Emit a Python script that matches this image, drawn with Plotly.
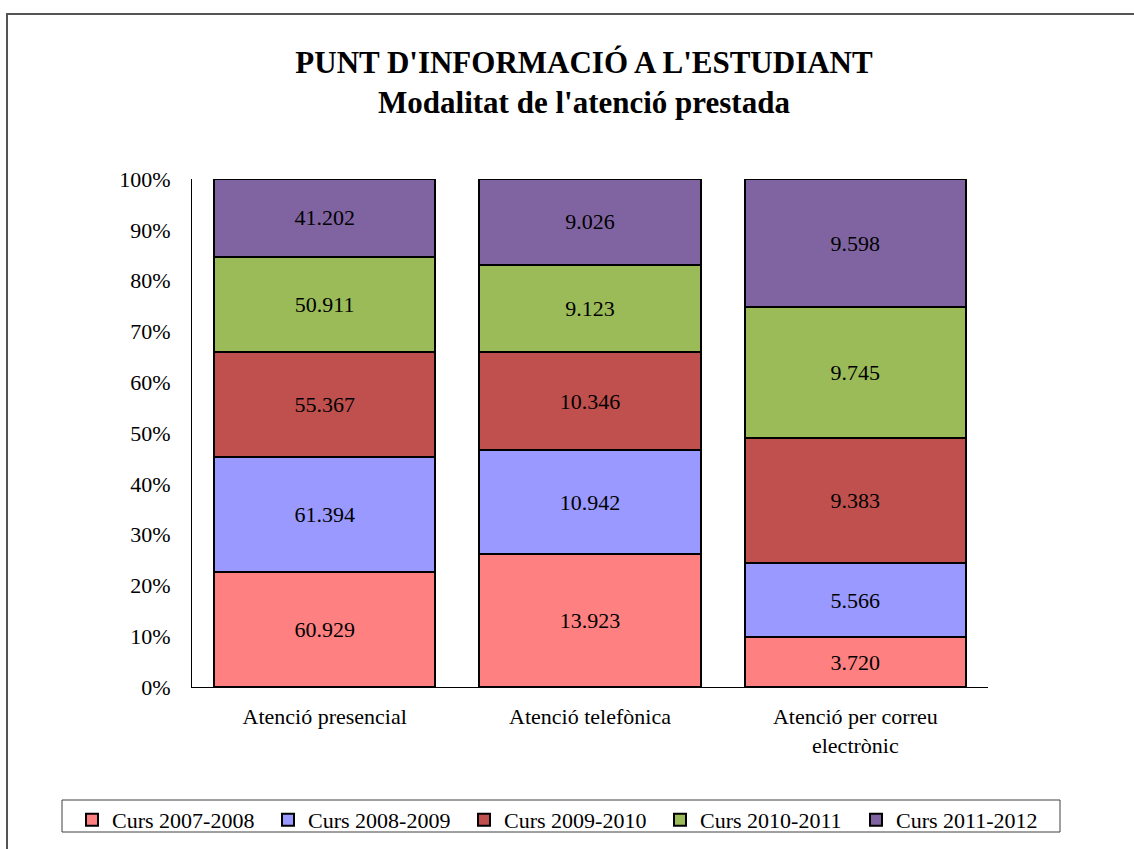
import plotly.graph_objects as go

# Attention channels (x categories)
categories = ["Atenció presencial", "Atenció telefònica", "Atenció per correu<br>electrònic"]

# Number of attentions per academic year and channel
curs_2007_2008 = [60929, 13923, 3720]
curs_2008_2009 = [61394, 10942, 5566]
curs_2009_2010 = [55367, 10346, 9383]
curs_2010_2011 = [50911, 9123, 9745]
curs_2011_2012 = [41202, 9026, 9598]

series_names = ["Curs 2007-2008", "Curs 2008-2009", "Curs 2009-2010", "Curs 2010-2011", "Curs 2011-2012"]
series_values = [curs_2007_2008, curs_2008_2009, curs_2009_2010, curs_2010_2011, curs_2011_2012]
series_colors = ["#FF8080", "#9999FF", "#C0504D", "#9BBB59", "#8064A2"]

y_ticks = [0, 10, 20, 30, 40, 50, 60, 70, 80, 90, 100]

FONT = "Liberation Serif, Times New Roman, serif"
TXT = 22

PLOT_L, PLOT_R, PLOT_T, PLOT_B = 192, 988, 179, 687
PW, PH = PLOT_R - PLOT_L, PLOT_B - PLOT_T


def fmt(v):
    return f"{v:,}".replace(",", ".")


def px_x(px):
    return (px - PLOT_L) / PW


def px_y(py):
    return (PLOT_B - py) / PH


fig = go.Figure()
for name, vals, col in zip(series_names, series_values, series_colors):
    fig.add_trace(go.Bar(
        x=categories,
        y=vals,
        name=name,
        marker=dict(color=col, line=dict(color="black", width=2)),
        text=[fmt(v) for v in vals],
        textposition="inside",
        insidetextanchor="middle",
        textangle=0,
        textfont=dict(family=FONT, size=TXT, color="black"),
        hoverinfo="skip",
    ))

fig.update_layout(
    barmode="stack",
    barnorm="percent",
    bargap=0.167,
    width=1134,
    height=849,
    margin=dict(l=PLOT_L, r=1134 - PLOT_R, t=PLOT_T, b=849 - PLOT_B, autoexpand=False),
    paper_bgcolor="white",
    plot_bgcolor="white",
    font=dict(family=FONT, size=TXT, color="black"),
    title=dict(
        text="<b>PUNT D'INFORMACIÓ A L'ESTUDIANT<br>Modalitat de l'atenció prestada</b>",
        x=0.515, xanchor="center",
        y=0.914, yanchor="top",
        font=dict(family=FONT, size=31, color="black"),
    ),
    legend=dict(
        orientation="h",
        x=px_x(72), xanchor="left",
        y=px_y(799), yanchor="top",
        borderwidth=0,
        bgcolor="rgba(0,0,0,0)",
        font=dict(family=FONT, size=TXT, color="black"),
        traceorder="normal",
        entrywidth=151,
        itemwidth=30,
    ),
    showlegend=True,
)

fig.update_yaxes(
    range=[0, 100],
    tickvals=y_ticks,
    ticktext=[f"{t}%" for t in y_ticks],
    showgrid=False,
    zeroline=False,
    showline=True,
    linecolor="black",
    linewidth=1,
    ticks="",
    ticklabelstandoff=16,
    tickfont=dict(family=FONT, size=TXT, color="black"),
)
fig.update_xaxes(
    showgrid=False,
    showline=True,
    linecolor="black",
    linewidth=1,
    ticks="",
    ticklabelstandoff=10,
    tickfont=dict(family=FONT, size=TXT, color="black"),
)

# Outer chart-area frame
fig.add_shape(
    type="rect", xref="paper", yref="paper",
    x0=px_x(7), x1=px_x(1150), y0=px_y(900), y1=px_y(14),
    line=dict(color="#555555", width=2), fillcolor="rgba(0,0,0,0)",
    layer="below",
)

# Legend frame
fig.add_shape(
    type="rect", xref="paper", yref="paper",
    x0=px_x(62), x1=px_x(1060), y0=px_y(832), y1=px_y(800),
    line=dict(color="#404040", width=1), fillcolor="white",
    layer="below",
)

fig.write_html("out.html")
